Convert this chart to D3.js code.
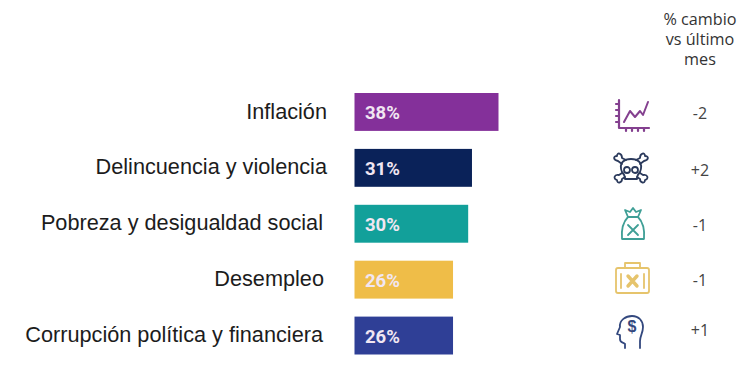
<!DOCTYPE html>
<html lang="es">
<head>
<meta charset="utf-8">
<script src="https://cdn.jsdelivr.net/npm/d3@7/dist/d3.min.js"></script>
<style>
html,body{margin:0;padding:0;background:#fff}
svg{display:block}
</style>
</head>
<body>
<svg id="chart" width="742" height="382"></svg>
<script>
const categories = ["Inflación","Delincuencia y violencia","Pobreza y desigualdad social","Desempleo","Corrupción política y financiera"];
const shares = [38,31,30,26,26];
const changes = ["-2","+2","-1","-1","+1"];
const barColors = ["#84309a","#0a2259","#12a09a","#efbd48","#2f3f96"];
const iconColors = ["#84408f","#2b3a5c","#3f9f96","#e6c46c","#33487e"];
const labelEdges = [327,327,323,324,323];
const headerLines = ["% cambio","vs último","mes"];

const svg = d3.select("#chart");
const x = d3.scaleLinear().domain([0,38]).range([354.5,498.5]);
const y = d3.scaleBand().domain(categories).range([93,354.5]).paddingInner(0.322).paddingOuter(0);
const mid = d => y(d) + y.bandwidth()/2;

// Row labels, right aligned next to the bars
svg.append("g").selectAll("text").data(categories).join("text")
  .attr("x",(d,i)=>labelEdges[i]).attr("y",d=>mid(d)-1).attr("dy","0.35em")
  .attr("text-anchor","end")
  .attr("font-family","Liberation Sans, Arial, sans-serif")
  .attr("font-size",21.7).attr("fill","#1c1c1c").text(d=>d);

// Bars
svg.append("g").selectAll("rect").data(categories).join("rect")
  .attr("x",x(0)).attr("y",d=>y(d))
  .attr("width",(d,i)=>x(shares[i])-x(0)).attr("height",y.bandwidth())
  .attr("fill",(d,i)=>barColors[i]);

// Value labels inside the bars
svg.append("g").selectAll("text").data(categories).join("text")
  .attr("x",x(0)+10.5).attr("y",d=>mid(d)+1).attr("dy","0.35em")
  .attr("font-family","Roboto, Arial, sans-serif").attr("font-weight",700)
  .attr("font-size",18.5).attr("fill","#f1e6f2")
  .text((d,i)=>shares[i]+"%");

// Column header
svg.append("g").selectAll("text").data(headerLines).join("text")
  .attr("x",700).attr("y",(d,i)=>25+i*20)
  .attr("text-anchor","middle")
  .attr("font-family","Open Sans, Noto Sans, sans-serif")
  .attr("font-size",16.2).attr("fill","#333").text(d=>d);

// Month-on-month change
svg.append("g").selectAll("text").data(categories).join("text")
  .attr("x",700).attr("y",(d,i)=>[119,176,231,286,336][i])
  .attr("text-anchor","middle")
  .attr("font-family","Open Sans, Noto Sans, sans-serif")
  .attr("font-size",16).attr("fill","#444")
  .text((d,i)=>changes[i]);

// Pictograms, one per row, outlined around their centre
const icons = [
  g => { // rising line on ticked axes
    g.append("path").attr("d","M-13,-14V14H17M-16,-10H-13M-16,-4H-13M-16,2H-13M-16,8H-13M-6,14V17M0,14V17M6,14V17M12,14V17").attr("stroke-width",2.2);
    g.append("path").attr("d","M-8,8L-2,-3L3,3L8,-3L11,1L16,-12").attr("stroke-width",2);
  },
  g => { // skull and crossbones
    g.append("path").attr("d","M-9,3C-13,-7 -6,-10 0,-10C6,-10 13,-7 9,3C7,5 6,6 6,10H-6C-6,6 -7,5 -9,3Z");
    g.append("circle").attr("cx",-4).attr("cy",1).attr("r",3);
    g.append("circle").attr("cx",4).attr("cy",1).attr("r",3);
    g.append("path").attr("d","M-9,-5L-13,-8C-18,-9 -18,-13 -14,-13C-14,-17 -9,-16 -9,-11L-5,-9M9,-5L13,-8C18,-9 18,-13 14,-13C14,-17 9,-16 9,-11L5,-9");
    g.append("path").attr("d","M-9,4L-12,6C-17,5 -18,10 -14,11C-14,15 -9,14 -9,10L-6,8M9,4L12,6C17,5 18,10 14,11C14,15 9,14 9,10L6,8");
  },
  g => { // tied sack with a cross
    g.append("path").attr("d","M-5,-7C-9,-3 -12,3 -11,15H11C12,3 9,-3 5,-7Z");
    g.append("path").attr("d","M-5,-7L-8,-14L-3,-12L0,-16L3,-12L8,-14L5,-7");
    g.append("path").attr("d","M-5,1L5,11M5,1L-5,11");
  },
  g => { // briefcase with a bandage
    g.append("rect").attr("x",-16).attr("y",-9).attr("width",33).attr("height",25).attr("rx",2);
    g.append("path").attr("d","M-7,-9V-14H8V-9M-11,-3V11M12,-3V11");
    g.append("path").attr("d","M-4,-1L5,9M5,-1L-4,9").attr("stroke-width",3.4);
  },
  g => { // head in profile holding a dollar sign
    g.append("path").attr("d","M-6,16V12C-8,10 -11,11 -11,7L-11,3L-14,2L-11,-5C-12,-12 -5,-16 1,-16C8,-16 12,-11 12,-5C12,1 9,4 9,9V16");
    g.append("text").attr("x",1).attr("y",0).attr("text-anchor","middle")
      .attr("font-family","Liberation Sans, sans-serif").attr("font-weight",700).attr("font-size",16)
      .attr("stroke","none").attr("fill","currentColor").text("$");
  }
];
const iconCentres = [[632,114],[631,169],[633,224],[632,277],[631,332]];
const iconLayer = svg.append("g");
icons.forEach((draw,i)=>{
  const g = iconLayer.append("g")
    .attr("transform",`translate(${iconCentres[i][0]},${iconCentres[i][1]})`)
    .attr("fill","none").attr("stroke",iconColors[i]).attr("color",iconColors[i])
    .attr("stroke-width",1.8).attr("stroke-linejoin","round").attr("stroke-linecap","round");
  draw(g);
});
</script>
</body>
</html>
